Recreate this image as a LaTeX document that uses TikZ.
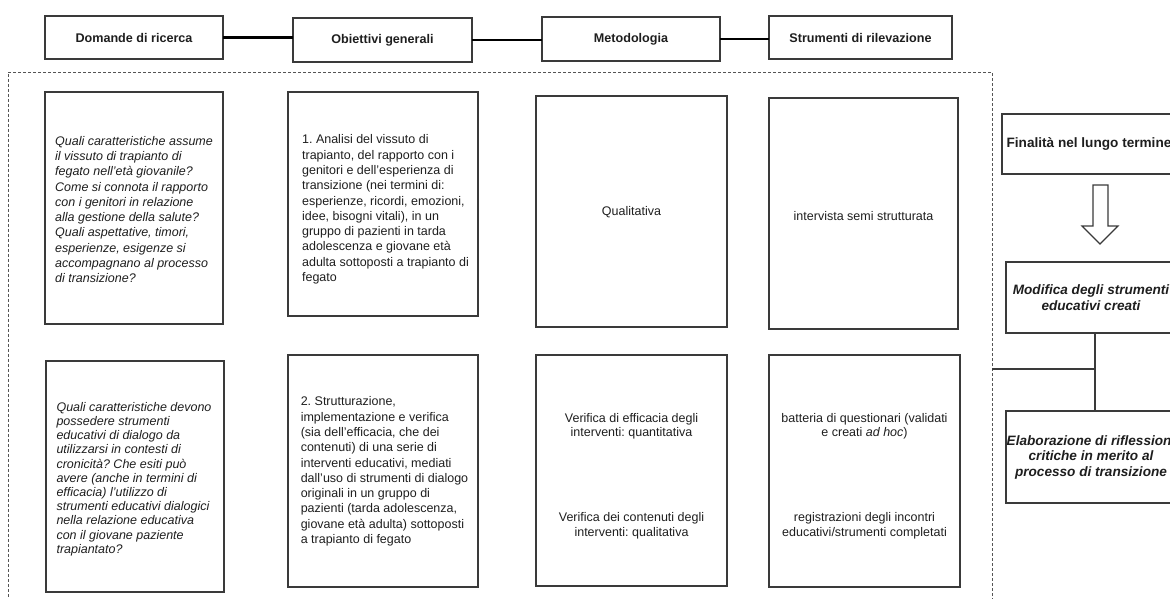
\documentclass[tikz,border=0pt]{standalone}
\usepackage{fontspec}
\setmainfont{Liberation Sans}
\usetikzlibrary{calc}
\definecolor{boxc}{HTML}{3A3A3A}
\definecolor{txtc}{HTML}{1E1E1E}
\definecolor{dashc}{HTML}{555555}
\frenchspacing
\begin{document}
\begin{tikzpicture}[x=1pt,y=-1pt,
  every node/.style={text=txtc},
  hdr/.style={draw=boxc, line width=1.2pt, inner sep=0pt, outer sep=0pt, font=\fontsize{12.6}{15}\selectfont\bfseries},
  cbox/.style={draw=boxc, line width=1.1pt, inner sep=0pt, outer sep=0pt},
  body/.style={inner sep=0pt, font=\fontsize{12.5}{15.3}\selectfont},
  ibody/.style={body, font=\fontsize{12.5}{15.3}\selectfont\itshape, align=left},
  rbox/.style={draw=boxc, line width=1.2pt, inner sep=0pt, outer sep=0pt, align=center},
  conn/.style={draw=black, line width=2.8pt},
  rline/.style={draw=boxc, line width=1.2pt},
  dashbox/.style={draw=dashc, line width=0.9pt, dash pattern=on 3pt off 2pt, inner sep=0pt, outer sep=0pt}
]
\useasboundingbox (0,0) rectangle (1170,599);

% header row
\node[hdr, minimum width=178pt, minimum height=43pt] (dom) at (134,37.5) {Domande di ricerca};
\node[hdr, minimum width=179pt, minimum height=44pt] (obi) at (382.5,40) {Obiettivi generali};
\node[hdr, minimum width=178pt, minimum height=44pt] (met) at (631,39) {Metodologia};
\node[hdr, minimum width=183pt, minimum height=43pt] (str) at (860.5,37.5) {Strumenti di rilevazione};
\draw[conn] (dom.east) -- (dom.east -| obi.west);
\draw[conn] (obi.east) -- (obi.east -| met.west);
\draw[conn] (met.east) -- (met.east -| str.west);

% dashed frame
\node[dashbox, minimum width=984pt, minimum height=540pt] (frame) at (500,342) {};

% content boxes, row 1
\node[cbox, minimum width=178pt, minimum height=232pt] (b11) at (134,208) {};
\node[cbox, minimum width=190pt, minimum height=224pt] (b12) at (383,204) {};
\node[cbox, minimum width=191pt, minimum height=231pt] (b13) at (631.5,211.5) {};
\node[cbox, minimum width=189pt, minimum height=231pt] (b14) at (863.5,213.5) {};
% content boxes, row 2
\node[cbox, minimum width=178pt, minimum height=231pt] (b21) at (135,476.5) {};
\node[cbox, minimum width=190pt, minimum height=232pt] (b22) at (383,471) {};
\node[cbox, minimum width=191pt, minimum height=231pt] (b23) at (631.5,470.5) {};
\node[cbox, minimum width=191pt, minimum height=232pt] (b24) at (864.5,471) {};

% texts
\node[ibody] (t11) at (134,209.5) {Quali caratteristiche assume\\il vissuto di trapianto di\\fegato nell’età giovanile?\\Come si connota il rapporto\\con i genitori in relazione\\alla gestione della salute?\\Quali aspettative, timori,\\esperienze, esigenze si\\accompagnano al processo\\di transizione?};
\node[body, align=left] (t12) at (385.5,209.5) {1. Analisi del vissuto di\\trapianto, del rapporto con i\\genitori e dell’esperienza di\\transizione (nei termini di:\\esperienze, ricordi, emozioni,\\idee, bisogni vitali), in un\\gruppo di pazienti in tarda\\adolescenza e giovane età\\adulta sottoposti a trapianto di\\fegato};
\node[body] (t13) at (631.5,212) {Qualitativa};
\node[body] (t14) at (863.5,216) {intervista semi strutturata};
\node[ibody, font=\fontsize{12.5}{14.2}\selectfont\itshape] (t21) at (134,479) {Quali caratteristiche devono\\possedere strumenti\\educativi di dialogo da\\utilizzarsi in contesti di\\cronicità? Che esiti può\\avere (anche in termini di\\efficacia) l’utilizzo di\\strumenti educativi dialogici\\nella relazione educativa\\con il giovane paziente\\trapiantato?};
\node[body, align=left] (t22) at (384.5,471.5) {2. Strutturazione,\\implementazione e verifica\\(sia dell’efficacia, che dei\\contenuti) di una serie di\\interventi educativi, mediati\\dall’uso di strumenti di dialogo\\originali in un gruppo di\\pazienti (tarda adolescenza,\\giovane età adulta) sottoposti\\a trapianto di fegato};
\node[body, align=center, font=\fontsize{12.5}{14.25}\selectfont] (t23) at (631.5,476) {Verifica di efficacia degli\\interventi: quantitativa\\[71.25pt]Verifica dei contenuti degli\\interventi: qualitativa};
\node[body, align=center, font=\fontsize{12.5}{14.25}\selectfont] (t24) at (864.5,476) {batteria di questionari (validati\\e creati \textit{ad hoc})\\[71.25pt]registrazioni degli incontri\\educativi/strumenti completati};

% right column
\node[rbox, minimum width=174pt, minimum height=60pt, font=\fontsize{13.6}{16}\selectfont\bfseries] (fin) at (1089,144) {Finalità nel lungo termine};
\node[rbox, minimum width=170pt, minimum height=71pt, font=\fontsize{13.6}{16}\selectfont\bfseries\itshape] (mod) at (1091,297.5) {Modifica degli strumenti\\educativi creati};
\node[rbox, minimum width=170pt, minimum height=92pt, font=\fontsize{13.6}{15.5}\selectfont\bfseries\itshape] (ela) at (1091,457) {Elaborazione di riflessioni\\critiche in merito al\\processo di transizione};

% hollow arrow
\draw[rline, fill=white] (1093,185) -- (1108,185) -- (1108,226) -- (1118,226) -- (1100,244) -- (1082,226) -- (1093,226) -- cycle;

% connectors on the right
\coordinate (jn) at (1095,369);
\draw[rline] (jn |- mod.south) -- (jn |- ela.north);
\draw[rline] (jn) -- (jn -| frame.east);
\end{tikzpicture}
\end{document}
